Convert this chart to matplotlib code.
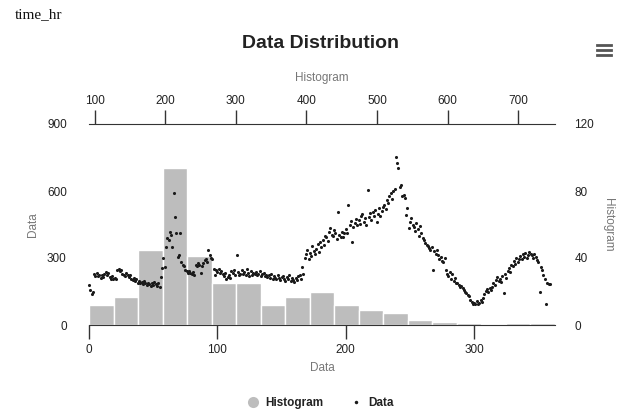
import numpy as np
import matplotlib.pyplot as plt
from matplotlib.lines import Line2D

# daily values (left axis "Data")
values = [
    180, 155, 140, 150, 228, 220, 232, 218, 225, 212,
    222, 215, 230, 236, 226, 232, 214, 208, 218, 204,
    212, 206, 245, 252, 240, 248, 230, 226, 218, 232,
    222, 214, 224, 208, 200, 212, 196, 205, 190, 198,
    186, 192, 184, 196, 188, 178, 190, 182, 175, 186,
    180, 192, 184, 176, 188, 172, 215, 255, 300, 260,
    349, 390, 380, 416, 405, 350, 591, 484, 412, 304,
    313, 412, 282, 270, 262, 246, 240, 235, 244, 233,
    229, 238, 226, 269, 262, 276, 268, 233, 264, 278,
    290, 296, 284, 336, 312, 300, 294, 252, 224, 246,
    238, 250, 232, 242, 228, 218, 232, 206, 215, 225,
    210, 240, 232, 248, 226, 313, 238, 222, 230, 245,
    228, 236, 224, 250, 232, 218, 240, 226, 234, 228,
    236, 222, 230, 240, 218, 228, 232, 220, 226, 214,
    222, 210, 228, 204, 218, 212, 206, 224, 210, 202,
    214, 220, 208, 198, 215, 206, 222, 196, 212, 202,
    192, 210, 200, 218, 224, 206, 260, 230, 300, 318,
    336, 296, 322, 308, 352, 330, 318, 340, 362, 326,
    372, 348, 381, 360, 400, 392, 376, 418, 434, 405,
    398, 424, 412, 385, 506, 402, 396, 418, 392, 410,
    430, 412, 537, 446, 464, 372, 440, 456, 476, 448,
    470, 452, 488, 496, 462, 478, 448, 605, 482, 500,
    472, 506, 490, 514, 460, 498, 522, 486, 510, 528,
    536, 520, 560, 548, 578, 590, 566, 602, 610, 752,
    725, 703, 620, 627, 578, 582, 570, 493, 524, 434,
    460, 479, 448, 440, 420, 455, 430, 398, 444, 412,
    390, 382, 368, 360, 352, 345, 338, 349, 246, 330,
    320, 336, 313, 296, 305, 288, 282, 298, 246, 230,
    218, 236, 206, 228, 198, 212, 188, 190, 178, 172,
    176, 166, 158, 150, 143, 136, 128, 112, 104, 96,
    100, 94, 108, 92, 98, 112, 104, 120, 138, 152,
    160, 146, 166, 156, 172, 188, 180, 200, 215, 196,
    206, 192, 220, 143, 230, 210, 244, 255, 236, 268,
    262, 286, 274, 300, 282, 294, 310, 296, 318, 306,
    322, 300, 314, 327, 320, 312, 298, 318, 304, 292,
    282, 148, 260, 245, 222, 205, 92, 188, 183, 185,
]

# histogram counts (right axis), 19 bins
hist_counts = [12, 17, 45, 94, 41, 25, 25, 12, 17, 20, 12, 9, 7, 3, 2, 1, 0, 1, 1]

data_ticks = [0, 100, 200, 300]
value_ticks = [0, 300, 600, 900]
bin_ticks = [100, 200, 300, 400, 500, 600, 700]
count_ticks = [0, 40, 80, 120]

plt.rcParams['font.family'] = ['Liberation Sans', 'DejaVu Sans']

W, H = 640, 416
fig = plt.figure(figsize=(W / 100, H / 100), dpi=100)
x0, x1, y0, y1 = 89, 555, 124, 325
rect = [x0 / W, 1 - y1 / H, (x1 - x0) / W, (y1 - y0) / H]

ax_h = fig.add_axes(rect)
ax = fig.add_axes(rect)
ax.patch.set_visible(False)

# histogram series (top x, right y)
edges = np.linspace(min(values), max(values), len(hist_counts) + 1)
ax_h.bar(edges[:-1], hist_counts, width=np.diff(edges), align='edge',
         color='#bdbdbd', edgecolor='white', linewidth=1)
ax_h.set_xlim(edges[0], edges[-1])
ax_h.set_ylim(0, 120)
ax_h.xaxis.tick_top()
ax_h.yaxis.tick_right()
ax_h.set_xticks(bin_ticks)
ax_h.set_yticks(count_ticks)
ax_h.tick_params(axis='x', direction='out', length=10, width=1, color='#333',
                 labelsize=8.5, labelcolor='#222', pad=2)
ax_h.tick_params(axis='y', length=0, labelsize=8.5, labelcolor='#222', pad=14)
for s in ['left', 'right', 'bottom']:
    ax_h.spines[s].set_visible(False)
ax_h.spines['top'].set_color('#333')
ax_h.xaxis.set_label_position('top')
ax_h.yaxis.set_label_position('right')
ax_h.set_xlabel('Histogram', fontsize=8.5, color='#777')
ax_h.set_ylabel('Histogram', fontsize=8.5, color='#777', rotation=270)
ax_h.xaxis.set_label_coords(0.5, (y1 - 78) / (y1 - y0))
ax_h.yaxis.set_label_coords((608 - x0) / (x1 - x0), 0.5)
ax_h.xaxis.label.set_va('center')
ax_h.yaxis.label.set_va('center')

# scatter series (bottom x, left y)
ax.scatter(range(len(values)), values, s=5, color='#1a1a1a', linewidths=0, zorder=3, clip_on=False)
ax.set_xlim(0, 363)
ax.set_ylim(0, 900)
ax.set_xticks(data_ticks)
ax.set_yticks(value_ticks)
ax.tick_params(axis='x', direction='out', length=10, width=1, color='#333',
               labelsize=8.5, labelcolor='#222', pad=4)
ax.tick_params(axis='y', length=0, labelsize=8.5, labelcolor='#222', pad=16)
for s in ['left', 'right', 'top']:
    ax.spines[s].set_visible(False)
ax.spines['bottom'].set_color('#333')
ax.set_xlabel('Data', fontsize=8.5, color='#777')
ax.set_ylabel('Data', fontsize=8.5, color='#777')
ax.xaxis.set_label_coords(0.5, (y1 - 368) / (y1 - y0))
ax.yaxis.set_label_coords((33 - x0) / (x1 - x0), 0.5)
ax.xaxis.label.set_va('center')
ax.yaxis.label.set_va('center')

fig.text(0.5, 1 - 43 / H, 'Data Distribution', ha='center', va='center',
         fontsize=14, fontweight='bold', color='#222')
fig.text(15 / W, 1 - 15 / H, 'time_hr', ha='left', va='center',
         fontsize=11, family='Liberation Serif', color='#111')

# menu icon
for yy in [45, 50, 55]:
    fig.add_artist(Line2D([597 / W, 611 / W], [1 - yy / H, 1 - yy / H],
                          color='#555', linewidth=2, transform=fig.transFigure))

handles = [
    Line2D([], [], marker='o', linestyle='none', markersize=8,
           markerfacecolor='#bdbdbd', markeredgecolor='none'),
    Line2D([], [], marker='o', linestyle='none', markersize=2.5,
           markerfacecolor='#1a1a1a', markeredgecolor='none'),
]
fig.legend(handles, ['Histogram', 'Data'], loc='center',
           bbox_to_anchor=(0.5, 1 - 403 / H), ncol=2, frameon=False,
           prop={'size': 8.5, 'weight': 'bold'}, handletextpad=0.4,
           columnspacing=2.2, handlelength=1.2, labelcolor='#222')

fig.savefig('out.png', dpi=100)
